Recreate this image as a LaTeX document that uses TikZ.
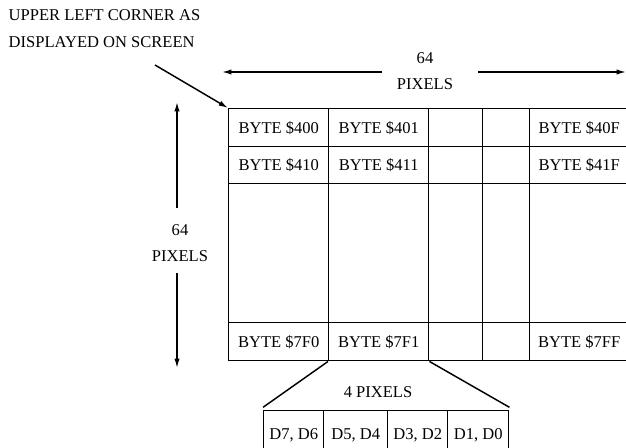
\documentclass[tikz,border=0pt]{standalone}
\usepackage{fontspec}
\setmainfont{Liberation Serif}
\usetikzlibrary{arrows.meta}
\begin{document}
\begin{tikzpicture}[x=0.75pt,y=-0.75pt,line width=1.1pt,
  txt/.style={font=\fontsize{12.4}{14}\selectfont,inner sep=0pt},
  cell/.style={draw,rectangle,inner sep=0pt,anchor=north west,
    font=\fontsize{12.4}{14}\selectfont},
  wide/.style={minimum width=75pt},
  narrowA/.style={minimum width=40.5pt},
  narrowB/.style={minimum width=35.25pt},
  lastcol/.style={minimum width=74.25pt},
  rowA/.style={minimum height=28.5pt},
  rowB/.style={minimum height=27.75pt},
  rowC/.style={minimum height=104.25pt},
  bits/.style={draw,rectangle,inner sep=0pt,anchor=north west,
    minimum height=37.5pt,font=\fontsize{12.4}{14}\selectfont},
  arr/.style={-{Latex[length=7pt,width=4pt]}}]
\useasboundingbox (0,0) rectangle (626,448);

% caption for the corner pointer
\node[txt,anchor=west] (cap1) at (8,15) {UPPER LEFT CORNER AS};
\node[txt,anchor=west] (cap2) at (8,42) {DISPLAYED ON SCREEN};

% screen memory grid: first row
\node[cell,wide,rowA]    (c11) at (228,108) {BYTE \$400};
\node[cell,wide,rowA]    (c12) at (328,108) {BYTE \$401};
\node[cell,narrowA,rowA] (c13) at (428,108) {};
\node[cell,narrowB,rowA] (c14) at (482,108) {};
\node[cell,lastcol,rowA] (c15) at (529,108) {BYTE \$40F};
% second row
\node[cell,wide,rowB]    (c21) at (228,146) {BYTE \$410};
\node[cell,wide,rowB]    (c22) at (328,146) {BYTE \$411};
\node[cell,narrowA,rowB] (c23) at (428,146) {};
\node[cell,narrowB,rowB] (c24) at (482,146) {};
\node[cell,lastcol,rowB] (c25) at (529,146) {BYTE \$41F};
% elided middle rows
\node[cell,wide,rowC]    (c31) at (228,183) {};
\node[cell,wide,rowC]    (c32) at (328,183) {};
\node[cell,narrowA,rowC] (c33) at (428,183) {};
\node[cell,narrowB,rowC] (c34) at (482,183) {};
\node[cell,lastcol,rowC] (c35) at (529,183) {};
% last row
\node[cell,wide,rowA]    (c41) at (228,322) {BYTE \$7F0};
\node[cell,wide,rowA]    (c42) at (328,322) {BYTE \$7F1};
\node[cell,narrowA,rowA] (c43) at (428,322) {};
\node[cell,narrowB,rowA] (c44) at (482,322) {};
\node[cell,lastcol,rowA] (c45) at (529,322) {BYTE \$7FF};

% width dimension
\node[txt,align=center] (hlab) at (425,71) {64\\[6pt]PIXELS};
\coordinate (hgapL) at (382,72);
\coordinate (hgapR) at (478,72);
\coordinate (hendL) at (222,72);
\coordinate (hendR) at (626,72);
\draw[arr] (hgapL) -- (hendL);
\draw[arr] (hgapR) -- (hendR);

% height dimension
\node[txt,align=center] (vlab) at (180,243) {64\\[6pt]PIXELS};
\coordinate (vgapT) at (177,208);
\coordinate (vgapB) at (177,273);
\coordinate (vendT) at (177,102);
\coordinate (vendB) at (177,368);
\draw[arr] (vgapT) -- (vendT);
\draw[arr] (vgapB) -- (vendB);

% pointer to the upper left corner
\coordinate (ptr) at (155,65);
\draw[arr] (ptr) -- (c11.north west);

% expansion of one byte into four pixels
\node[bits,minimum width=45pt]    (s1) at (263,410) {D7, D6};
\node[bits,minimum width=48pt]    (s2) at (323,410) {D5, D4};
\node[bits,minimum width=45pt]    (s3) at (387,410) {D3, D2};
\node[bits,minimum width=45.75pt] (s4) at (447,410) {D1, D0};
\node[txt] (four) at (378,392) {4 PIXELS};
\draw (c42.south west) -- ([yshift=2pt]s1.north west);
\draw (c42.south east) -- ([yshift=2pt]s4.north east);
\end{tikzpicture}
\end{document}
